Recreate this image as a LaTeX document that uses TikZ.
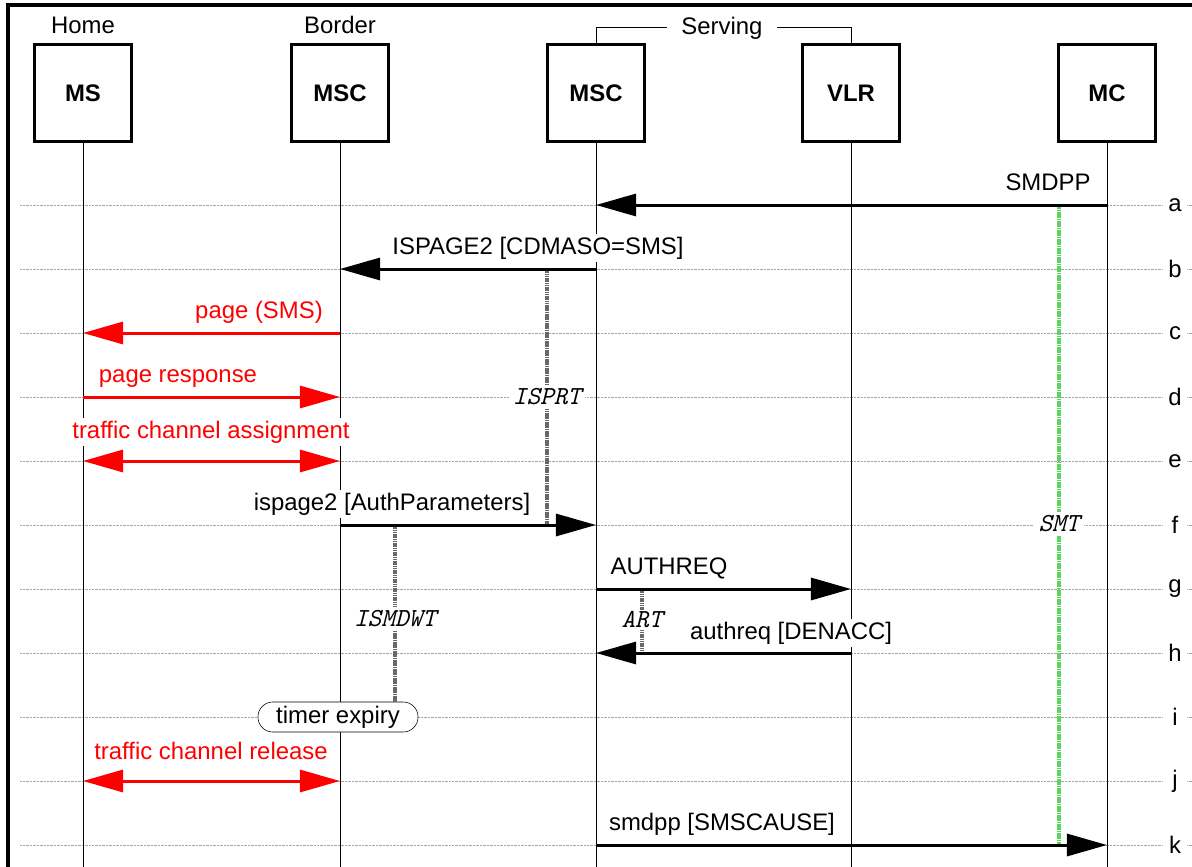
\documentclass[tikz,border=0pt]{standalone}
\usepackage{fontspec}
\setmainfont{Liberation Sans}
\usepackage{tikz}
\usetikzlibrary{arrows.meta, positioning}
\definecolor{msgred}{RGB}{255, 0, 0}
\definecolor{rowgray}{RGB}{165, 165, 165}
\definecolor{timergray}{RGB}{105, 105, 105}
\definecolor{smtgreen}{RGB}{90, 215, 90}

\begin{document}
\begin{tikzpicture}[
  x=0.025cm, y=-0.025cm,
  every node/.style={font=\fontsize{17}{20}\selectfont},
  entity/.style={draw, line width=0.075cm, minimum size=2.4cm, inner sep=0pt,
    font=\fontsize{17}{20}\selectfont\bfseries},
  lifeline/.style={line width=0.025cm},
  rowline/.style={rowgray, line width=0.5pt, dash pattern=on 0.4pt off 0.6pt},
  rowlab/.style={fill=white, inner sep=0pt, minimum width=0.6cm, minimum height=0.6cm},
  msg/.style={line width=0.075cm, -{Triangle[length=1cm, width=0.55cm]}},
  bimsg/.style={line width=0.075cm, {Triangle[length=1cm, width=0.55cm]}-{Triangle[length=1cm, width=0.55cm]}},
  msglab/.style={fill=white, inner sep=2pt, anchor=base},
  timer/.style={timergray, line width=0.1cm, dash pattern=on 1.2pt off 0.4pt},
  timerlab/.style={fill=white, inner sep=3pt, font=\fontsize{18.5}{20}\ttfamily\itshape},
]
  \useasboundingbox (0,0) rectangle (1192,867);

  % Frame
  \draw[line width=0.09cm] (8,867) -- (8,5) -- (1192,5);

  % Rows
  \foreach \rw/\y in {a/205, b/269, c/333, d/397, e/461, f/525, g/589, h/653, i/717, j/781, k/845} {
    \draw[rowline] (20,\y) coordinate (row\rw) -- (1192,\y);
    \node[rowlab] (lab\rw) at (1175,\y) {\rw};
  }
  \coordinate (bottom) at (0,867);

  % Entities
  \node[entity] (ms)   at (83,93)   {MS};
  \node[entity] (mscb) at (340,93)  {MSC};
  \node[entity] (mscs) at (596,93)  {MSC};
  \node[entity] (vlr)  at (851,93)  {VLR};
  \node[entity] (mc)   at (1107,93) {MC};

  \node (home)    at (83,25)  {Home};
  \node (border)  at (340,25) {Border};
  \node[inner sep=10pt] (serving) at (722,28) {Serving};
  \draw[lifeline] (mscs.north) |- (serving.west);
  \draw[lifeline] (vlr.north) |- (serving.east);

  % Lifelines
  \foreach \e in {ms, mscb, mscs, vlr, mc} {
    \draw[lifeline] (\e.south) -- (\e |- bottom);
  }

  % Timers
  \coordinate (tisprt) at (547,0);
  \coordinate (tismdwt) at (395,0);
  \coordinate (tart) at (642,0);
  \coordinate (tsmt) at (1059,0);
  \node[draw, rounded corners=0.37cm, minimum width=4cm, minimum height=0.75cm,
    inner sep=0pt, fill=white] (expiry) at (338,717) {timer expiry};
  \draw[timer] (tisprt |- rowb) -- (tisprt |- rowf);
  \draw[timer] (tismdwt |- rowf) -- (tismdwt |- expiry.north);
  \draw[timer] (tart |- rowg) -- (tart |- rowh);
  \draw[timer, smtgreen] ([yshift=-0.06cm]tsmt |- rowa) -- (tsmt |- rowk);
  \node[timerlab] (isprt) at (547,397) {ISPRT};
  \node[timerlab] (ismdwt) at (395,619) {ISMDWT};
  \node[timerlab, inner sep=1pt] (art) at (642,620) {ART};
  \node[timerlab] (smt) at (1059,524) {SMT};

  % Messages
  \draw[msg] (mc |- rowa) -- (mscs |- rowa);
  \draw[msg] (mscs |- rowb) -- (mscb |- rowb);
  \draw[msg, msgred] (mscb |- rowc) -- (ms |- rowc);
  \draw[msg, msgred] (ms |- rowd) -- (mscb |- rowd);
  \draw[bimsg, msgred] (ms |- rowe) -- (mscb |- rowe);
  \draw[msg] (mscb |- rowf) -- (mscs |- rowf);
  \draw[msg] (mscs |- rowg) -- (vlr |- rowg);
  \draw[msg] (vlr |- rowh) -- (mscs |- rowh);
  \draw[bimsg, msgred] (ms |- rowj) -- (mscb |- rowj);
  \draw[msg] (mscs |- rowk) -- (mc |- rowk);

  % Message labels
  \node[msglab] at (1048,190) {SMDPP};
  \node[msglab] at (538,254) {ISPAGE2 [CDMASO=SMS]};
  \node[msglab, text=msgred] at (259,318) {page (SMS)};
  \node[msglab, text=msgred] at (178,382) {page response};
  \node[msglab, text=msgred] at (211,438) {traffic channel assignment};
  \node[msglab] at (392,510) {ispage2 [AuthParameters]};
  \node[msglab] at (669,574) {AUTHREQ};
  \node[msglab] at (791,639) {authreq [DENACC]};
  \node[msglab, text=msgred] at (211,759) {traffic channel release};
  \node[msglab] at (722,830) {smdpp [SMSCAUSE]};

\end{tikzpicture}
\end{document}
